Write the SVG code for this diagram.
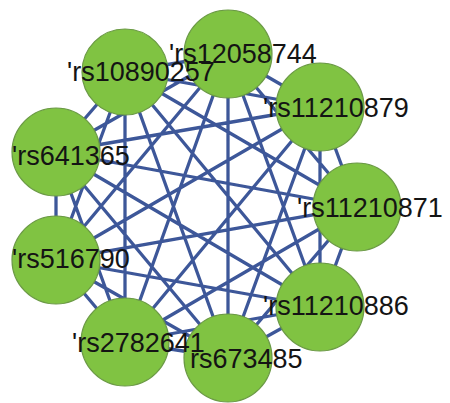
<svg xmlns="http://www.w3.org/2000/svg" width="450" height="403" viewBox="0 0 450 403">
<style>
.e{stroke:#3d5799;stroke-width:3.3;fill:none;stroke-linecap:round}
.n{fill:#80c342;stroke:#6b9a45;stroke-width:1.2}
.t{font-family:"Liberation Sans",Arial,sans-serif;font-size:27px;fill:#141414}
</style>
<rect width="450" height="403" fill="#ffffff"/>
<g id="edges">
<path class="e" d="M228,54L125,72M228,54L320,107M228,54L56,152M228,54L357,207M228,54L56,260M228,54L320,307M228,54L125,342M228,54L228,358
M125,72L320,107M125,72L56,152M125,72L357,207M125,72L56,260M125,72L320,307M125,72L125,342M125,72L228,358
M320,107L56,152M320,107L357,207M320,107L56,260M320,107L320,307M320,107L125,342M320,107L228,358
M56,152L357,207M56,152L56,260M56,152L320,307M56,152L125,342M56,152L228,358
M357,207L56,260M357,207L320,307M357,207L125,342M357,207L228,358
M56,260L320,307M56,260L125,342M56,260L228,358
M320,307L125,342M320,307L228,358
M125,342L228,358"/>
</g>
<g id="n1"><circle class="n" cx="228" cy="54" r="44"/></g>
<g id="n2"><circle class="n" cx="125" cy="72" r="43"/></g>
<g id="n3"><circle class="n" cx="320" cy="107" r="44"/></g>
<g id="n4"><circle class="n" cx="56" cy="152" r="44"/></g>
<g id="n5"><circle class="n" cx="357" cy="207" r="44"/></g>
<g id="n6"><circle class="n" cx="56" cy="260" r="44"/></g>
<g id="n7"><circle class="n" cx="320" cy="307" r="44"/></g>
<g id="n8"><circle class="n" cx="125" cy="342" r="44"/></g>
<g id="n9"><circle class="n" cx="228" cy="358" r="44"/></g>
<g id="labels">
<text class="t" x="169" y="63">'rs12058744</text>
<text class="t" x="67" y="81">'rs10890257</text>
<text class="t" x="263" y="117">'rs11210879</text>
<text class="t" x="12" y="165">'rs641365</text>
<text class="t" x="297" y="217">'rs11210871</text>
<text class="t" x="12" y="268">'rs516790</text>
<text class="t" x="263" y="315">'rs11210886</text>
<text class="t" x="72" y="352">'rs2782641</text>
<text class="t" x="190" y="368">rs673485</text>
</g>
</svg>
